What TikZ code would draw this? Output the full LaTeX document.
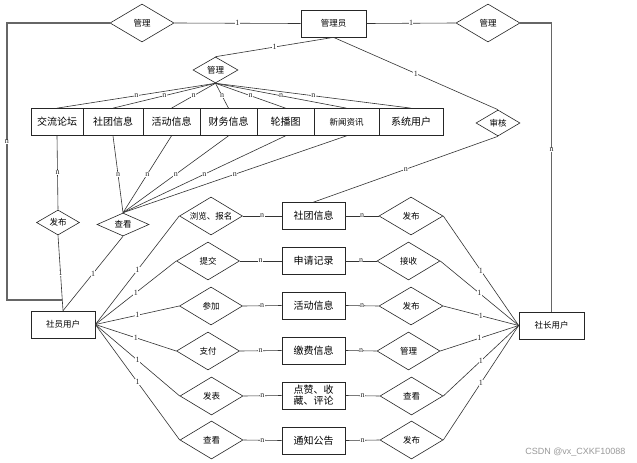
\documentclass[tikz,border=0pt]{standalone}
\usepackage{fontspec}
\setmainfont{Noto Sans CJK SC}
\newfontfamily\labfont{Liberation Serif}
\newfontfamily\wmfont{Liberation Sans}
\usetikzlibrary{shapes.geometric,shadows}
\begin{document}
\begin{tikzpicture}[x=1pt,y=-1pt,
 ent/.style={draw=black!85, line width=0.7pt, fill=white, rectangle, inner sep=0pt,
   minimum height=27pt, font=\fontsize{10}{11}\selectfont,
   drop shadow={shadow xshift=0.8pt,shadow yshift=-0.8pt,fill=black!55,opacity=1}},
 sment/.style={ent, font=\fontsize{8.5}{9.5}\selectfont},
 rel/.style={draw=black!85, line width=0.6pt, diamond, fill=white, inner sep=0pt,
   aspect=1.7, minimum width=63pt, minimum height=38pt, font=\fontsize{8.5}{9.5}\selectfont},
 con/.style={draw=black!80, line width=0.6pt},
 outer/.style={draw=black!60, line width=1.1pt},
 lbl/.style={font=\labfont\fontsize{8}{8}\selectfont, fill=white, inner sep=0.4pt, text=black!85},
]
\useasboundingbox (0,0) rectangle (637,463);
\fill[white] (0,0) rectangle (637,463);

% top level
\node[rel, minimum width=64pt] (gl1) at (142,23) {管理};
\node[sment, minimum width=65pt] (admin) at (333.5,23.5) {管理员};
\node[rel, minimum width=64pt] (gl2) at (488,23) {管理};
\node[rel, minimum width=45pt, minimum height=26pt] (gl3) at (215.5,70) {管理};
\node[rel, minimum width=44pt, minimum height=26pt] (sh) at (498,123) {审核};

% row of entities
\node[ent, minimum width=52pt] (jl) at (57,122) {交流论坛};
\node[ent, minimum width=60pt] (st1) at (113,122) {社团信息};
\node[ent, minimum width=57pt] (hd1) at (171.5,122) {活动信息};
\node[ent, minimum width=57pt] (cw) at (228.5,122) {财务信息};
\node[ent, minimum width=57pt] (lbt) at (285.5,122) {轮播图};
\node[sment, minimum width=65pt] (xw) at (346.5,122) {新闻资讯};
\node[ent, minimum width=64pt] (xt) at (411,122) {系统用户};

\node[rel, minimum width=43pt, minimum height=25pt] (fb1) at (58,222.5) {发布};
\node[rel, minimum width=52pt, minimum height=23pt] (ck1) at (123,224.5) {查看};

\node[sment, minimum width=64pt] (suy) at (63,324.5) {社员用户};
\node[sment, minimum width=65pt] (szy) at (551.5,325.5) {社长用户};

% middle rows
\node[rel] (l1) at (211,216) {浏览、报名};
\node[rel] (l2) at (208,261) {提交};
\node[rel] (l3) at (211,306) {参加};
\node[rel] (l4) at (208,351) {支付};
\node[rel] (l5) at (211.5,396) {发表};
\node[rel] (l6) at (211.5,440) {查看};

\node[ent, minimum width=63pt] (e1) at (313.5,216) {社团信息};
\node[ent, minimum width=63pt] (e2) at (313.5,261) {申请记录};
\node[ent, minimum width=63pt] (e3) at (313.5,305.5) {活动信息};
\node[ent, minimum width=63pt] (e4) at (313.5,350.5) {缴费信息};
\node[ent, minimum width=63pt, align=center, font=\fontsize{10}{11}\selectfont] (e5) at (313.5,395.5) {点赞、收\\藏、评论};
\node[ent, minimum width=63pt] (e6) at (313.5,440.5) {通知公告};

\node[rel, minimum width=64pt] (r1) at (411,216) {发布};
\node[rel, minimum width=63pt] (r2) at (408.5,261) {接收};
\node[rel, minimum width=64pt] (r3) at (411,306) {发布};
\node[rel, minimum width=63pt] (r4) at (408.5,351) {管理};
\node[rel, minimum width=63pt] (r5) at (411.5,396) {查看};
\node[rel, minimum width=63pt] (r6) at (411.5,440) {发布};

% outer connectors
\coordinate (lbend) at (62.3,300);
\draw[outer] (gl1.west) -- (7,23) -- node[lbl,pos=0.43] {n} (7,300) -- (lbend);
\draw[outer] (gl2.east) -| node[lbl,pos=0.72] {n} (szy.north);
\draw[con] (gl1.east) -- node[lbl] {1} (admin.west);
\draw[con] (admin.east) -- node[lbl] {1} (gl2.west);
\draw[con] (admin.south) -- node[lbl] {1} (gl3.north);
\draw[con] (admin.south) -- node[lbl] {1} (sh.north);
\draw[con] (sh.south) -- node[lbl] {n} (e1.north);

% manage -> entities
\foreach \t in {jl,st1,hd1,cw,lbt,xw,xt}
  \draw[con] (gl3.south) -- node[lbl] {n} (\t.north);
% entities -> view
\foreach \t in {st1,hd1,cw,lbt,xw}
  \draw[con] (\t.south) -- node[lbl] {n} (ck1.north);
\draw[con] (jl.south) -- node[lbl] {n} (fb1.north);
\draw[con] (fb1.south) -- node[lbl] {1} (suy.north);
\draw[con] (ck1.south) -- node[lbl] {1} (suy.north);

% rows
\foreach \i in {1,...,6}{
  \draw[con] (suy.east) -- node[lbl] {1} (l\i.west);
  \draw[con] (l\i.east) -- node[lbl] {n} (e\i.west);
  \draw[con] (e\i.east) -- node[lbl] {n} (r\i.west);
  \draw[con] (r\i.east) -- node[lbl] {1} (szy.west);
}

\node[font=\wmfont\fontsize{9}{10}\selectfont, text=black!40, anchor=east] (wm) at (629,452) {CSDN @vx\_CXKF10088};
\end{tikzpicture}
\end{document}
